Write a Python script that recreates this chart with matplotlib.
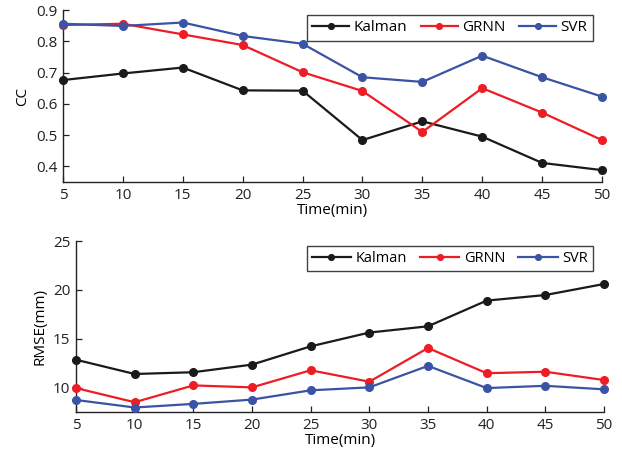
import matplotlib
matplotlib.use("Agg")
import matplotlib.pyplot as plt

plt.rcParams['font.family'] = ['Open Sans', 'DejaVu Sans']

time = [5, 10, 15, 20, 25, 30, 35, 40, 45, 50]
series_names = ["Kalman", "GRNN", "SVR"]

cc_kalman = [0.676, 0.697, 0.716, 0.643, 0.642, 0.484, 0.544, 0.495, 0.411, 0.388]
cc_grnn = [0.852, 0.856, 0.822, 0.788, 0.701, 0.641, 0.510, 0.650, 0.572, 0.484]
cc_svr = [0.856, 0.849, 0.860, 0.817, 0.792, 0.685, 0.670, 0.754, 0.685, 0.623]

rmse_kalman = [12.85, 11.39, 11.57, 12.35, 14.22, 15.63, 16.27, 18.90, 19.47, 20.60]
rmse_grnn = [9.95, 8.50, 10.22, 10.02, 11.77, 10.60, 14.05, 11.47, 11.62, 10.77]
rmse_svr = [8.73, 7.96, 8.33, 8.77, 9.72, 10.02, 12.22, 9.95, 10.18, 9.82]

colors = ["#1a1a1a", "#ee1c25", "#3a53a4"]
cc_ticks = [0.4, 0.5, 0.6, 0.7, 0.8, 0.9]
rmse_ticks = [10, 15, 20, 25]

fig = plt.figure(figsize=(6.22, 4.55), dpi=100)
ax1 = fig.add_axes([63/622, 1-182/455, 539/622, 172/455])
ax2 = fig.add_axes([76/622, 1-412/455, 528/622, 171/455])

FS = 11

def style(ax):
    for s in ['top', 'right']:
        ax.spines[s].set_visible(False)
    for s in ['left', 'bottom']:
        ax.spines[s].set_linewidth(1.0)
        ax.spines[s].set_color('#222222')
    ax.tick_params(direction='in', length=4, width=0.9, labelsize=FS, colors='#222222', pad=4)
    ax.set_xticks(time)
    ax.set_xlim(5, 50)

def legend(ax, x, y, fs, hl, cs):
    leg = ax.legend(ncol=3, loc='upper right', bbox_to_anchor=(x, y), borderaxespad=0,
                    frameon=True, fancybox=False, edgecolor='#111111', fontsize=fs,
                    handlelength=hl, columnspacing=cs, handletextpad=0.3,
                    borderpad=0.35, markerscale=0.75)
    leg.get_frame().set_linewidth(1.0)
    return leg

for vals, name, c in zip([cc_kalman, cc_grnn, cc_svr], series_names, colors):
    ax1.plot(time, vals, '-o', color=c, lw=1.6, ms=5.5, label=name, clip_on=False, zorder=3)
style(ax1)
ax1.set_ylim(0.35, 0.9)
ax1.set_yticks(cc_ticks)
ax1.set_yticklabels([f"{v:.1f}" for v in cc_ticks])
ax1.set_ylabel("CC", fontsize=FS, labelpad=4)
ax1.set_xlabel("Time(min)", fontsize=FS, labelpad=0)
legend(ax1, 0.983, 0.971, FS, 2.4, 0.9)

for vals, name, c in zip([rmse_kalman, rmse_grnn, rmse_svr], series_names, colors):
    ax2.plot(time, vals, '-o', color=c, lw=1.6, ms=5.5, label=name, clip_on=False, zorder=3)
style(ax2)
ax2.set_ylim(7.5, 25)
ax2.set_yticks(rmse_ticks)
ax2.set_ylabel("RMSE(mm)", fontsize=FS, labelpad=4)
ax2.set_xlabel("Time(min)", fontsize=FS, labelpad=0)
legend(ax2, 0.979, 0.971, 10.5, 2.7, 0.9)

fig.savefig("out.png", dpi=100)
